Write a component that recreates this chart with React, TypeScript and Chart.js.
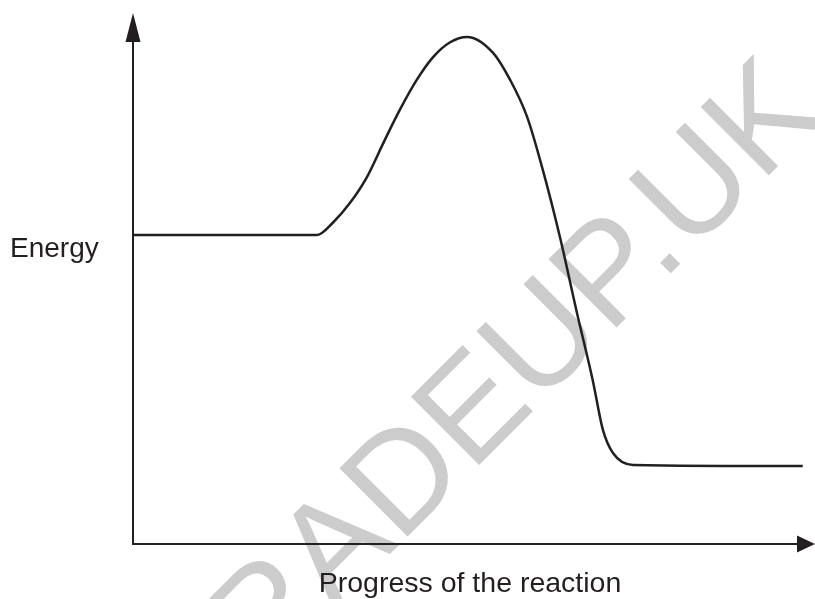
import React, { useEffect, useRef } from "react";
import { Chart, registerables } from "chart.js";

Chart.register(...registerables);

// Progress of the reaction (0–100) and energy (0–100)
const progress = [0, 27.0, 29.3, 31.8, 34.3, 36.7, 39.1, 41.6, 44.0, 46.5, 49.0, 52.8, 55.3, 57.8, 60.1, 62.6, 65.1, 67.4, 68.9, 70.4, 73.3, 98.2];
const energy = [58.2, 58.2, 60.5, 64.2, 69.1, 75.5, 81.7, 87.4, 91.7, 94.5, 95.5, 92.5, 87.4, 80.4, 70.4, 57.8, 43.5, 30.9, 21.5, 17.1, 14.9, 14.7];

const yLabel = "Energy";
const xLabel = "Progress of the reaction";
const watermark = "GRADEUP.UK";

const INK = "#231f20";
const FONT = "'Liberation Sans', Arial, sans-serif";

const watermarkPlugin = {
  id: "watermark",
  beforeDatasetsDraw(chart: any) {
    const ctx = chart.ctx;
    ctx.save();
    ctx.fillStyle = "#cccccc";
    ctx.font = `140px ${FONT}`;
    ctx.textAlign = "left";
    ctx.textBaseline = "alphabetic";
    ctx.translate(185, 759);
    ctx.rotate(-Math.PI / 4);
    ctx.fillText(watermark, 0, 0);
    ctx.restore();
  },
};

const axesPlugin = {
  id: "axesArrows",
  afterDatasetsDraw(chart: any) {
    const ctx = chart.ctx;
    const xs = chart.scales.x;
    const ys = chart.scales.y;
    const x0 = xs.getPixelForValue(0);
    const y0 = ys.getPixelForValue(0);
    const xEnd = xs.getPixelForValue(100);
    const yEnd = ys.getPixelForValue(100);
    ctx.save();
    ctx.strokeStyle = INK;
    ctx.fillStyle = INK;
    ctx.lineWidth = 2;
    ctx.beginPath();
    ctx.moveTo(x0, yEnd + 20);
    ctx.lineTo(x0, y0);
    ctx.lineTo(xEnd - 14, y0);
    ctx.stroke();
    // y arrow
    ctx.beginPath();
    ctx.moveTo(x0, yEnd);
    ctx.lineTo(x0 - 7.5, yEnd + 29);
    ctx.lineTo(x0 + 7.5, yEnd + 29);
    ctx.closePath();
    ctx.fill();
    // x arrow
    ctx.beginPath();
    ctx.moveTo(xEnd, y0);
    ctx.lineTo(xEnd - 18, y0 - 8.5);
    ctx.lineTo(xEnd - 18, y0 + 8.5);
    ctx.closePath();
    ctx.fill();

    ctx.font = `28px ${FONT}`;
    ctx.textBaseline = "alphabetic";
    ctx.textAlign = "left";
    ctx.fillText(yLabel, 10, 257);
    ctx.font = `28.5px ${FONT}`;
    ctx.textAlign = "center";
    ctx.fillText(xLabel, 470, 592);
    ctx.restore();
  },
};

export default function App() {
  const ref = useRef<HTMLCanvasElement | null>(null);
  useEffect(() => {
    if (!ref.current) return;
    const chart = new Chart(ref.current, {
      type: "line",
      data: {
        datasets: [
          {
            data: progress.map((x, i) => ({ x, y: energy[i] })),
            borderColor: INK,
            borderWidth: 2.5,
            pointRadius: 0,
            cubicInterpolationMode: "monotone",
            fill: false,
          },
        ],
      },
      options: {
        animation: false,
        responsive: false,
        devicePixelRatio: 1,
        layout: { padding: { left: 133, right: 0, top: 13, bottom: 55 } },
        plugins: { legend: { display: false }, tooltip: { enabled: false } },
        scales: {
          x: { type: "linear", min: 0, max: 100, display: false },
          y: { type: "linear", min: 0, max: 100, display: false },
        },
      },
      plugins: [watermarkPlugin, axesPlugin],
    });
    return () => chart.destroy();
  }, []);
  return (
    <div style={{ position: "fixed", left: 0, top: 0, width: 815, height: 599, background: "#fff" }}>
      <canvas ref={ref} width={815} height={599} />
    </div>
  );
}
